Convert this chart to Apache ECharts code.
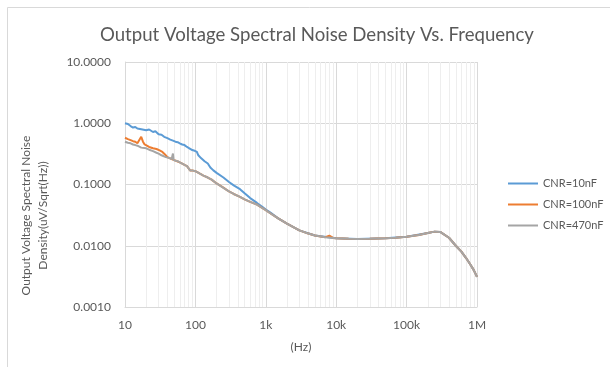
<!DOCTYPE html>
<html>
<head>
<meta charset="utf-8">
<title>Output Voltage Spectral Noise Density Vs. Frequency</title>
<script src="https://cdn.jsdelivr.net/npm/echarts@6/dist/echarts.min.js"></script>
<style>
    html, body { margin: 0; padding: 0; background: #ffffff; }
    #chart { width: 610px; height: 367px; }
</style>
</head>
<body>
<div id="chart"></div>
<script>
// series names (legend)
var seriesNames = ['CNR=10nF', 'CNR=100nF', 'CNR=470nF'];

// CNR=10nF
var freq10nF = [10, 11, 12, 13, 14, 15, 16, 17, 18, 20, 22, 23, 25, 27, 30, 33, 36, 40, 44, 48, 52, 56, 60, 65, 70, 76, 82, 88, 95, 100,
    105, 110, 120, 135, 150, 163, 180, 200, 250, 300, 350, 430, 500, 600, 750, 900, 1000, 1150, 1500, 2000, 3000, 5000, 10000,
    20000, 50000, 100000, 200000, 250000, 300000, 400000, 500000, 600000, 700000, 800000, 900000, 1000000];
var noise10nF = [1.00, 0.97, 0.90, 0.85, 0.87, 0.82, 0.85, 0.80, 0.83, 0.77, 0.79, 0.74, 0.72, 0.74, 0.66, 0.65, 0.60, 0.57, 0.54, 0.52, 0.50, 0.49, 0.47, 0.45, 0.44, 0.41, 0.39, 0.37, 0.36, 0.36,
    0.34, 0.30, 0.27, 0.24, 0.22, 0.19, 0.17, 0.155, 0.13, 0.11, 0.097, 0.084, 0.072, 0.060, 0.050, 0.043, 0.039, 0.035, 0.028, 0.023, 0.0178, 0.0147, 0.0132,
    0.0129, 0.0132, 0.0140, 0.0162, 0.0170, 0.0168, 0.0135, 0.0100, 0.0080, 0.0063, 0.0050, 0.0040, 0.0031];

// CNR=100nF
var freq100nF = [10, 11, 12, 13, 14, 15, 16, 17, 18, 19, 20, 22, 25, 28, 31, 34, 37, 40, 43, 46, 50, 55, 60, 65, 70, 76, 84, 90, 100,
    116, 130, 150, 170, 200, 250, 300, 350, 430, 500, 600, 750, 900, 1000, 1200, 1500, 2000, 2500, 3000, 4000, 5000, 6000, 7000, 8000, 9000, 10000,
    15000, 20000, 30000, 50000, 70000, 100000, 150000, 200000, 250000, 300000, 400000, 500000, 600000, 700000, 800000, 900000, 1000000];
var noise100nF = [0.58, 0.55, 0.53, 0.51, 0.50, 0.47, 0.50, 0.60, 0.50, 0.45, 0.43, 0.41, 0.39, 0.38, 0.36, 0.34, 0.31, 0.28, 0.27, 0.26, 0.25, 0.24, 0.23, 0.22, 0.21, 0.20, 0.17, 0.17, 0.165,
    0.15, 0.14, 0.13, 0.12, 0.104, 0.089, 0.077, 0.070, 0.063, 0.057, 0.052, 0.047, 0.041, 0.038, 0.033, 0.028, 0.023, 0.020, 0.0178, 0.0158, 0.0147, 0.0142, 0.0138, 0.0146, 0.0134, 0.0132,
    0.0130, 0.0129, 0.0130, 0.0132, 0.0135, 0.0140, 0.0150, 0.0162, 0.0170, 0.0168, 0.0135, 0.0100, 0.0080, 0.0063, 0.0050, 0.0040, 0.0031];

// CNR=470nF
var freq470nF = [10, 11, 12, 13, 14, 15, 17, 18, 20, 22, 25, 28, 30, 33, 35, 38, 40, 43, 46, 48, 49, 52, 56, 60, 65, 70, 76, 84, 90, 100,
    116, 130, 150, 170, 200, 250, 300, 350, 430, 500, 600, 750, 900, 1000, 1200, 1500, 2000, 2500, 3000, 4000, 5000, 7000, 10000,
    15000, 20000, 30000, 50000, 70000, 100000, 150000, 200000, 250000, 300000, 400000, 500000, 600000, 700000, 800000, 900000, 1000000];
var noise470nF = [0.50, 0.48, 0.47, 0.45, 0.44, 0.43, 0.40, 0.41, 0.39, 0.37, 0.35, 0.33, 0.32, 0.30, 0.30, 0.28, 0.28, 0.27, 0.26, 0.32, 0.25, 0.25, 0.24, 0.23, 0.22, 0.21, 0.20, 0.17, 0.17, 0.165,
    0.15, 0.14, 0.13, 0.12, 0.104, 0.088, 0.077, 0.070, 0.063, 0.057, 0.052, 0.047, 0.041, 0.038, 0.033, 0.028, 0.023, 0.020, 0.0178, 0.0158, 0.0147, 0.0138, 0.0132,
    0.0130, 0.0129, 0.0130, 0.0132, 0.0135, 0.0140, 0.0150, 0.0162, 0.0170, 0.0168, 0.0135, 0.0100, 0.0080, 0.0063, 0.0050, 0.0040, 0.0031];

// x axis tick labels (decades)
var xTickValues = [10, 100, 1000, 10000, 100000, 1000000];
var xTickLabels = ['10', '100', '1k', '10k', '100k', '1M'];
// minor vertical grid lines between decades
var xMinorLines = [20, 30, 40, 50, 60, 70, 80, 90, 200, 300, 400, 500, 600, 700, 800, 900,
    2000, 3000, 4000, 5000, 6000, 7000, 8000, 9000, 20000, 30000, 40000, 50000, 60000, 70000, 80000, 90000,
    200000, 300000, 400000, 500000, 600000, 700000, 800000, 900000];

var colors = ['#5B9BD5', '#ED7D31', '#A5A5A5'];
var textColor = '#595959';
var fontFamily = 'Lato, "Liberation Sans", sans-serif';

function pairs(xs, ys) {
    return xs.map(function (x, i) { return [x, ys[i]]; });
}

var lineSeries = [[freq10nF, noise10nF], [freq100nF, noise100nF], [freq470nF, noise470nF]].map(function (d, i) {
    return {
        name: seriesNames[i],
        type: 'line',
        symbol: 'none',
        z: 3,
        lineStyle: { width: 2, color: colors[i] },
        itemStyle: { color: colors[i] },
        data: pairs(d[0], d[1])
    };
});

// helper series that only carries the minor grid lines
var gridSeries = {
    name: 'minorGrid',
    type: 'line',
    z: 1,
    data: [],
    silent: true,
    markLine: {
        z: 1,
        silent: true,
        symbol: 'none',
        label: { show: false },
        lineStyle: { color: '#eeeeee', width: 1, type: 'solid' },
        emphasis: { disabled: true },
        animation: false,
        data: xMinorLines.map(function (v) { return { xAxis: v }; })
    }
};

var option = {
    backgroundColor: '#ffffff',
    animation: false,
    color: colors,
    textStyle: { fontFamily: fontFamily },
    title: {
        text: 'Output Voltage Spectral Noise Density Vs. Frequency',
        left: 95,
        top: 20,
        textStyle: { color: textColor, fontSize: 18.6, fontWeight: 'normal', fontFamily: fontFamily }
    },
    legend: {
        data: seriesNames,
        orient: 'vertical',
        left: 508,
        top: 178,
        padding: 0,
        icon: 'rect',
        itemWidth: 30,
        itemHeight: 2,
        itemGap: 10,
        textStyle: { color: textColor, fontSize: 11, fontFamily: fontFamily }
    },
    grid: { left: 125, top: 62, right: 133, bottom: 60, containLabel: false },
    xAxis: {
        type: 'log',
        logBase: 10,
        min: 10,
        max: 1000000,
        name: '(Hz)',
        nameLocation: 'middle',
        nameGap: 34,
        nameTextStyle: { color: textColor, fontSize: 12, fontFamily: fontFamily },
        axisLine: { show: true, lineStyle: { color: '#d9d9d9' } },
        axisTick: { show: false },
        axisLabel: {
            color: textColor,
            fontSize: 12,
            margin: 12,
            formatter: function (v) {
                var i = xTickValues.indexOf(Math.round(v));
                return i >= 0 ? xTickLabels[i] : '';
            }
        },
        splitLine: { show: true, lineStyle: { color: '#d9d9d9' } }
    },
    yAxis: {
        type: 'log',
        logBase: 10,
        min: 0.001,
        max: 10,
        name: 'Output Voltage Spectral Noise\nDensity(uV/Sqrt(Hz))',
        nameLocation: 'middle',
        nameRotate: 90,
        nameGap: 73,
        nameTextStyle: { color: textColor, fontSize: 12, lineHeight: 17, fontFamily: fontFamily, padding: [0, 62, 0, 0] },
        axisLine: { show: true, lineStyle: { color: '#d9d9d9' } },
        axisTick: { show: false },
        axisLabel: {
            color: textColor,
            fontSize: 12,
            margin: 14,
            formatter: function (v) { return v.toFixed(4); }
        },
        splitLine: { show: true, lineStyle: { color: '#d9d9d9' } }
    },
    graphic: [{
        type: 'rect',
        silent: true,
        z: -1,
        shape: { x: 7.5, y: 7.5, width: 700, height: 500 },
        style: { fill: 'none', stroke: '#d9d9d9', lineWidth: 1 }
    }],
    series: [gridSeries].concat(lineSeries)
};

var myChart = echarts.init(document.getElementById('chart'), null, { renderer: 'canvas' });
myChart.setOption(option);
</script>
</body>
</html>
